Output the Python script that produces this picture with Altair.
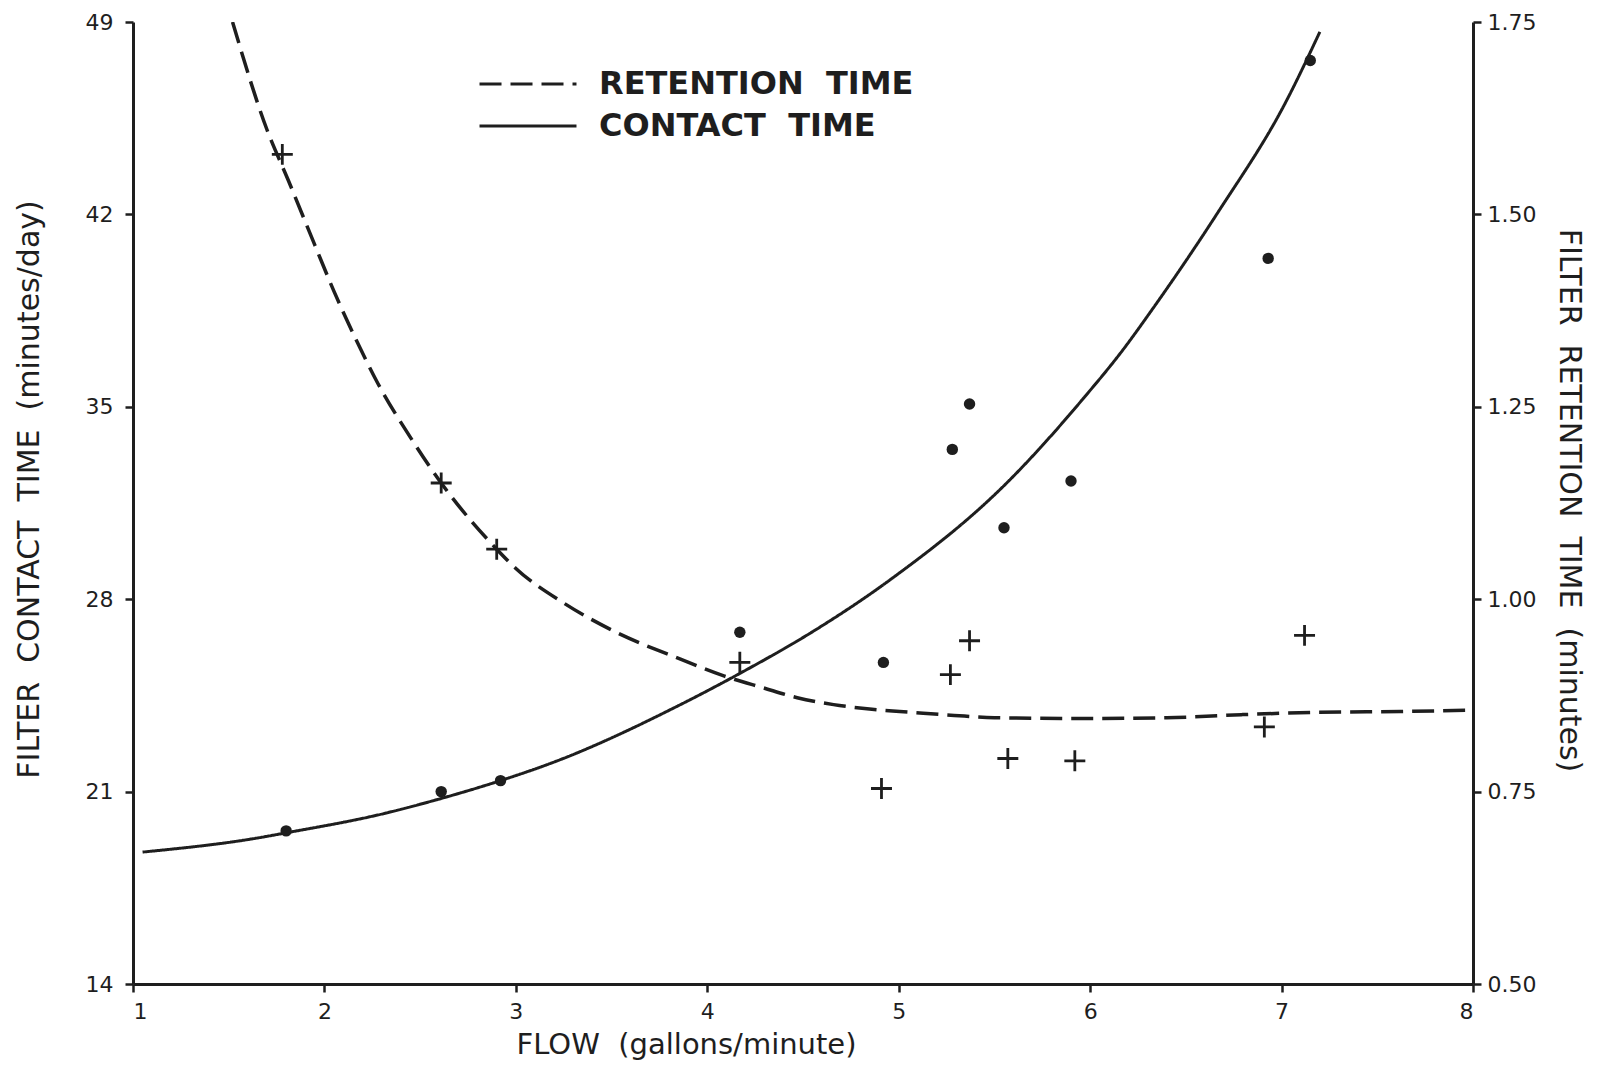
import altair as alt
import pandas as pd

INK = "#1e1e1e"
FONT = "DejaVu Sans"

# Contact-time curve (left axis)
flow_contact_curve = [1.05, 1.64, 1.80, 2.31, 2.61, 2.92, 3.19, 3.87, 4.17, 4.56,
                      4.95, 5.56, 5.97, 6.17, 6.32, 6.67, 7.02, 7.20]
contact_curve = [18.80, 19.30, 19.50, 20.20, 20.75, 21.40, 22.05, 24.20, 25.30, 26.86,
                 28.68, 32.20, 35.35, 37.06, 38.50, 42.10, 46.06, 48.64]

# Retention-time curve (right axis)
flow_retention_curve = [1.52, 1.70, 1.81, 1.95, 2.05, 2.16, 2.28, 2.45, 2.61, 2.90,
                        3.00, 3.25, 3.50, 3.86, 4.09, 4.29, 4.47, 4.66, 4.86, 5.07,
                        5.29, 5.50, 5.92, 6.40, 6.79, 7.19, 7.62, 8.00]
retention_curve = [1.750, 1.610, 1.545, 1.460, 1.400, 1.340, 1.280, 1.210, 1.151, 1.065,
                   1.040, 0.995, 0.960, 0.922, 0.900, 0.885, 0.872, 0.863, 0.857, 0.853,
                   0.849, 0.846, 0.845, 0.846, 0.850, 0.853, 0.854, 0.856]

# Observed points
flow_contact_pts = [1.80, 2.61, 2.92, 4.17, 4.92, 5.28, 5.37, 5.55, 5.90, 6.93, 7.15]
contact_pts = [19.57, 21.00, 21.40, 26.80, 25.70, 33.45, 35.10, 30.60, 32.30, 40.40, 47.60]

flow_retention_pts = [1.78, 2.61, 2.90, 4.17, 4.91, 5.27, 5.37, 5.57, 5.92, 6.91, 7.12]
retention_pts = [1.578, 1.151, 1.065, 0.918, 0.754, 0.902, 0.946, 0.793, 0.790, 0.834, 0.953]

RET_LABEL = "RETENTION\u00a0\u00a0TIME"
CON_LABEL = "CONTACT\u00a0\u00a0TIME"

contact_curve_df = pd.DataFrame({"flow": flow_contact_curve, "contact": contact_curve,
                                 "series": CON_LABEL})
retention_curve_df = pd.DataFrame({"flow": flow_retention_curve, "retention": retention_curve,
                                   "series": RET_LABEL})
contact_pts_df = pd.DataFrame({"flow": flow_contact_pts, "contact": contact_pts})
retention_pts_df = pd.DataFrame({"flow": flow_retention_pts, "retention": retention_pts})

x_enc = alt.X(
    "flow:Q",
    scale=alt.Scale(domain=[1, 8], nice=False, zero=False),
    axis=alt.Axis(
        values=[1, 2, 3, 4, 5, 6, 7, 8],
        title="FLOW\u00a0\u00a0(gallons/minute)",
        titleX=553, titleY=60, titleAngle=0, titleAlign="center", titleBaseline="middle",
        titleFontSize=29,
        labelPadding=9,
    ),
)

y_left = alt.Y(
    "contact:Q",
    scale=alt.Scale(domain=[14, 49], nice=False, zero=False),
    axis=alt.Axis(
        orient="left",
        values=[14, 21, 28, 35, 42, 49],
        title="FILTER\u00a0\u00a0CONTACT\u00a0\u00a0TIME\u00a0\u00a0(minutes/day)",
        titleX=-104, titleY=467, titleAngle=270, titleAlign="center", titleBaseline="middle",
        labelPadding=12,
    ),
)

y_right = alt.Y(
    "retention:Q",
    scale=alt.Scale(domain=[0.5, 1.75], nice=False, zero=False),
    axis=alt.Axis(
        orient="right",
        values=[0.5, 0.75, 1.0, 1.25, 1.5, 1.75],
        format=".2f",
        title="FILTER\u00a0\u00a0RETENTION\u00a0\u00a0TIME\u00a0\u00a0(minutes)",
        titleX=95, titleY=478, titleAngle=90, titleAlign="center", titleBaseline="middle",
        labelPadding=6,
    ),
)

dash_enc = alt.StrokeDash(
    "series:N",
    scale=alt.Scale(domain=[RET_LABEL, CON_LABEL], range=[[22, 9], [1, 0]]),
    legend=alt.Legend(
        title=None, orient="none", legendX=377, legendY=44,
        symbolType="M-3,0L3,0", symbolSize=1045, symbolStrokeWidth=3,
        symbolStrokeColor=INK, symbolFillColor="transparent",
        labelFontSize=32, labelFont=FONT, labelColor=INK,
        labelFontWeight="bold",
        labelOffset=53, rowPadding=8, padding=0, labelLimit=1000,
    ),
)

contact_line = alt.Chart(contact_curve_df).mark_line(
    color=INK, strokeWidth=3, interpolate="monotone", clip=True
).encode(x=x_enc, y=y_left, strokeDash=dash_enc)

contact_dots = alt.Chart(contact_pts_df).mark_point(
    shape="circle", filled=True, color=INK, size=130, opacity=1
).encode(x=x_enc, y=y_left)

retention_line = alt.Chart(retention_curve_df).mark_line(
    color=INK, strokeWidth=3.5, interpolate="monotone", clip=True,
    strokeDash=[26, 12]
).encode(x=x_enc, y=y_right, strokeDash=dash_enc)

retention_cross = alt.Chart(retention_pts_df).mark_point(
    shape="M-1,0L1,0M0,-1L0,1", filled=False, color=INK, strokeWidth=2.8, size=440, opacity=1
).encode(x=x_enc, y=y_right)

left = alt.layer(contact_line, contact_dots)
right = alt.layer(retention_line, retention_cross)

chart = (
    alt.layer(left, right)
    .resolve_scale(y="independent")
    .properties(
        width=1340, height=962,
        autosize=alt.AutoSizeParams(type="none"),
        padding={"left": 125, "top": 14, "right": 114, "bottom": 80},
        background="white",
    )
    .configure_view(stroke=None)
    .configure_axis(
        grid=False,
        domainColor=INK, domainWidth=3,
        tickColor=INK, tickWidth=2.5, tickSize=8,
        labelFont=FONT, labelFontSize=22, labelColor=INK,
        titleFont=FONT, titleFontSize=30, titleColor=INK, titleFontWeight="normal",
    )
)

chart.save("out.html", embed_options={"renderer": "svg", "actions": False})
